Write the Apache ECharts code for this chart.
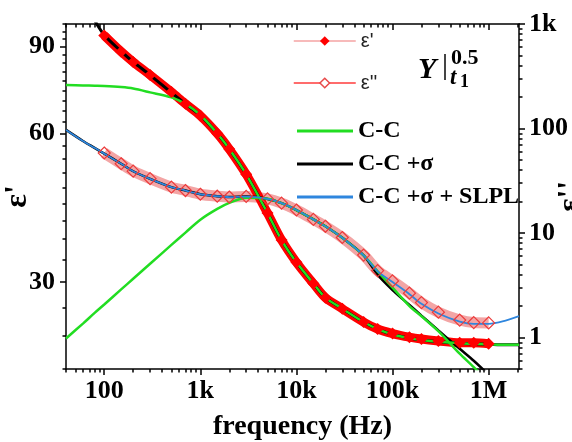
<!DOCTYPE html>
<html>
<head>
<meta charset="utf-8">
<script src="https://cdn.jsdelivr.net/npm/echarts@6/dist/echarts.min.js"></script>
<style>
  html, body { margin: 0; padding: 0; background: #fff; }
  #chart { width: 572px; height: 442px; }
</style>
</head>
<body>
<div id="chart"></div>
<script>
// measured points (Hz)
const freq = [100, 150, 200, 300, 500, 700, 1e3, 1.5e3, 2e3, 3e3, 5e3, 7e3, 1e4, 1.5e4, 2e4, 3e4, 5e4, 7e4, 1e5, 1.5e5, 2e5, 3e5, 5e5, 7e5, 1e6];
const epsReal = [94.8, 87.9, 83.8, 78.8, 72.8, 68.9, 65.2, 60.0, 55.8, 49.6, 41.4, 36.5, 32.9, 29.8, 27.9, 26.5, 24.9, 24.1, 23.6, 23.2, 23.0, 22.8, 22.6, 22.6, 22.5];
const epsImag = [58.3, 46.0, 39.1, 33.1, 27.5, 25.5, 23.5, 22.5, 22.1, 22.4, 21.2, 19.3, 16.6, 13.5, 11.6, 9.06, 6.15, 4.37, 3.48, 2.66, 2.16, 1.75, 1.47, 1.39, 1.38];

// fitted curves
const fitFreq = [40, 60, 80, 100, 150, 200, 300, 500, 700, 1e3, 1.5e3, 2e3, 3e3, 5e3, 7e3, 1e4, 1.5e4, 2e4, 3e4, 5e4, 7e4, 1e5, 1.5e5, 2e5, 3e5, 5e5, 7e5, 1e6, 1.5e6, 2.07e6];
const ccReal = [75.2, 75.1, 75.0, 74.9, 74.5, 74.0, 72.7, 71.0, 68.9, 65.4, 60.0, 55.8, 49.6, 41.4, 36.5, 32.9, 29.8, 27.9, 26.5, 24.9, 24.1, 23.5, 23.1, 22.9, 22.7, 22.55, 22.5, 22.45, 22.4, 22.4];
const ccImag = [0.98, 1.36, 1.73, 2.07, 2.89, 3.65, 5.08, 7.7, 10.1, 13.4, 17.0, 19.4, 21.8, 21.3, 19.3, 16.6, 13.5, 11.6, 9.0, 6.1, 4.3, 3.0, 2.0, 1.6, 1.15, 0.7, 0.52, 0.37, null, null];
const ccSigReal = [null, null, 101.5, 95.0, 88.0, 83.8, 78.8, 72.6, 68.9, 65.3, 60.0, 55.8, 49.6, 41.4, 36.5, 32.9, 29.8, 27.9, 26.5, 24.9, 24.1, 23.5, 23.1, 22.9, 22.7, 22.55, 22.5, 22.45, 22.4, 22.4];
const ccSigImag = [97, 76, 65, 57.5, 46, 39, 33, 27.5, 25.5, 23.5, 22.5, 22.1, 22.3, 21.2, 19.3, 16.6, 13.5, 11.6, 9.0, 6.1, 4.0, 2.85, 2.05, 1.62, 1.17, 0.78, 0.6, 0.44, null, null];
const slplImag = [97, 76, 65, 57.5, 46, 39, 33, 27.5, 25.5, 23.5, 22.5, 22.1, 22.3, 21.2, 19.3, 16.6, 13.5, 11.6, 9.0, 6.1, 4.3, 3.4, 2.6, 2.1, 1.7, 1.42, 1.35, 1.35, 1.45, 1.6];

// ticks
const xTickValues = [100, 1e3, 1e4, 1e5, 1e6];
const xTickLabels = ['100', '1k', '10k', '100k', '1M'];
const leftTickValues = [30, 60, 90];
const rightTickValues = [1, 10, 100, 1000];
const rightTickLabels = ['1', '10', '100', '1k'];

const X_MIN = 40, X_MAX = 2.07e6;
const L_MIN = 20, L_MAX = 100;
const R_MIN = 0.5, R_MAX = 1000;

const xMinor = [];
[10, 100, 1e3, 1e4, 1e5, 1e6].forEach(d => {
    for (let k = 2; k <= 9; k++) {
        const v = k * d;
        if (v >= X_MIN && v <= X_MAX) xMinor.push(v);
    }
});
const rightMinor = [];
[0.1, 1, 10, 100].forEach(d => {
    for (let k = 2; k <= 9; k++) {
        const v = k * d;
        if (v >= R_MIN && v <= R_MAX) rightMinor.push(v);
    }
});
const leftMinor = [];
for (let k = 0; k <= 24; k++) {
    if (k % 9 !== 3) leftMinor.push(20 + k * 10 / 3);
}

const pair = (xs, ys) => xs.map((x, i) => [x, ys[i]]);
const labelFor = (vals, labels) => v => {
    const i = vals.findIndex(t => Math.abs(Math.log10(t) - Math.log10(v)) < 1e-6);
    return i >= 0 ? labels[i] : '';
};

const serif = 'Liberation Serif';
const tickFont = { fontFamily: serif, fontWeight: 'bold', fontSize: 26, color: '#000' };
const lineOn = () => ({ show: true, onZero: false, lineStyle: { color: '#000', width: 1.5 } });
const lineOff = () => ({ show: false, onZero: false });
const ticks = (vals, len, inside) => ({
    show: true, inside: !!inside, length: len, customValues: vals,
    lineStyle: { color: '#000', width: 1.5 }
});

const chart = echarts.init(document.getElementById('chart'));

const option = {
    animation: false,
    backgroundColor: '#fff',
    grid: { left: 66, right: 53, top: 24, bottom: 73, outerBoundsMode: 'none' },
    xAxis: [
        {
            type: 'log', min: X_MIN, max: X_MAX, position: 'bottom',
            axisLine: lineOn(), axisTick: ticks(xTickValues, 6),
            axisLabel: { ...tickFont, margin: 9, customValues: xTickValues, formatter: labelFor(xTickValues, xTickLabels) },
            splitLine: { show: false },
            name: 'frequency (Hz)', nameLocation: 'middle', nameGap: 44, nameMoveOverlap: false,
            nameTextStyle: { fontFamily: serif, fontWeight: 'bold', fontSize: 28, color: '#000', padding: [0, 0, 0, 20] }
        },
        {
            type: 'log', min: X_MIN, max: X_MAX, position: 'bottom',
            axisLine: lineOff(), axisTick: ticks(xMinor, 3.5),
            axisLabel: { show: false }, splitLine: { show: false }
        },
        {
            type: 'log', min: X_MIN, max: X_MAX, position: 'top',
            axisLine: lineOn(), axisTick: ticks(xTickValues, 6, true),
            axisLabel: { show: false }, splitLine: { show: false }
        },
        {
            type: 'log', min: X_MIN, max: X_MAX, position: 'top',
            axisLine: lineOff(), axisTick: ticks(xMinor, 3.5, true),
            axisLabel: { show: false }, splitLine: { show: false }
        }
    ],
    yAxis: [
        {
            type: 'log', min: L_MIN, max: L_MAX, position: 'left',
            axisLine: lineOn(), axisTick: ticks(leftTickValues, 6),
            axisLabel: { ...tickFont, margin: 11, customValues: leftTickValues },
            splitLine: { show: false },
            name: "ε'", nameLocation: 'middle', nameGap: 32, nameRotate: 90, nameMoveOverlap: false,
            nameTextStyle: { fontFamily: serif, fontWeight: 'bold', fontSize: 32, color: '#000' }
        },
        {
            type: 'log', min: R_MIN, max: R_MAX, position: 'right',
            axisLine: lineOn(), axisTick: ticks(rightTickValues, 6),
            axisLabel: { ...tickFont, margin: 10, customValues: rightTickValues, formatter: labelFor(rightTickValues, rightTickLabels) },
            splitLine: { show: false },
            name: "ε''", nameLocation: 'middle', nameGap: 36, nameRotate: 90, nameMoveOverlap: false,
            nameTextStyle: { fontFamily: serif, fontWeight: 'bold', fontSize: 32, color: '#000' }
        },
        {
            type: 'log', min: L_MIN, max: L_MAX, position: 'left',
            axisLine: lineOff(), axisTick: ticks(leftMinor, 3.5),
            axisLabel: { show: false }, splitLine: { show: false }
        },
        {
            type: 'log', min: R_MIN, max: R_MAX, position: 'right',
            axisLine: lineOff(), axisTick: ticks(rightMinor, 3.5),
            axisLabel: { show: false }, splitLine: { show: false }
        }
    ],
    legend: [
        {
            orient: 'vertical', left: 288, top: 26, itemWidth: 62, itemHeight: 12, itemGap: 22,
            selectedMode: false,
            textStyle: { fontFamily: 'Liberation Sans', fontSize: 20, color: '#222' },
            data: [
                { name: "ε'", lineStyle: { color: '#f5a3a3', width: 1.5 }, itemStyle: { color: '#ff0000' } },
                { name: "ε''", lineStyle: { color: '#ff3b3b', width: 1.5 }, itemStyle: { color: '#fff', borderColor: '#e84a4a', borderWidth: 1.5 } }
            ]
        },
        {
            orient: 'vertical', left: 292, top: 114, itemWidth: 56, itemHeight: 3, itemGap: 9,
            icon: 'rect', selectedMode: false,
            textStyle: { fontFamily: serif, fontWeight: 'bold', fontSize: 24, color: '#000' },
            data: ['C-C', 'C-C +σ', 'C-C +σ + SLPL']
        }
    ],
    graphic: [
        { type: 'text', left: 418, top: 55, style: { text: 'Y', font: 'italic bold 30px "Liberation Serif"', fill: '#000' } },
        { type: 'text', left: 442, top: 51, style: { text: '|', font: '30px "Liberation Serif"', fill: '#000' } },
        { type: 'text', left: 451, top: 47, style: { text: '0.5', font: 'bold 22px "Liberation Serif"', fill: '#000' } },
        { type: 'text', left: 450, top: 67, style: { text: 't', font: 'italic bold 23px "Liberation Serif"', fill: '#000' } },
        { type: 'text', left: 460, top: 73, style: { text: '1', font: 'bold 18px "Liberation Serif"', fill: '#000' } }
    ],
    series: [
        {
            name: "ε''", type: 'line', xAxisIndex: 0, yAxisIndex: 1,
            data: pair(freq, epsImag), smooth: 0.3,
            symbol: 'diamond', symbolSize: 12, showSymbol: true,
            itemStyle: { color: 'rgba(255,255,255,0)', borderColor: '#ec3a3a', borderWidth: 1.2 },
            lineStyle: { color: '#f3a5a5', width: 11 }
        },
        {
            name: "ε'", type: 'line', xAxisIndex: 0, yAxisIndex: 0,
            data: pair(freq, epsReal), smooth: 0.3,
            symbol: 'diamond', symbolSize: 12, showSymbol: true,
            itemStyle: { color: '#ff0000' },
            lineStyle: { color: '#ff0000', width: 9 }
        },
        {
            name: 'C-C +σ', type: 'line', xAxisIndex: 0, yAxisIndex: 0,
            data: pair(fitFreq, ccSigReal), smooth: 0.3, symbol: 'none',
            itemStyle: { color: '#000' }, lineStyle: { color: '#000', width: 3 }
        },
        {
            name: 'C-C +σ', type: 'line', xAxisIndex: 0, yAxisIndex: 1,
            data: pair(fitFreq, ccSigImag), smooth: 0.3, symbol: 'none',
            itemStyle: { color: '#000' }, lineStyle: { color: '#000', width: 2.5 }
        },
        {
            name: 'C-C', type: 'line', xAxisIndex: 0, yAxisIndex: 0,
            data: pair(fitFreq, ccReal), smooth: 0.3, symbol: 'none',
            itemStyle: { color: '#22dd22' }, lineStyle: { color: '#22dd22', width: 2.5 }
        },
        {
            name: 'C-C', type: 'line', xAxisIndex: 0, yAxisIndex: 1,
            data: pair(fitFreq, ccImag), smooth: 0.3, symbol: 'none',
            itemStyle: { color: '#22dd22' }, lineStyle: { color: '#22dd22', width: 2.5 }
        },
        {
            name: 'C-C +σ + SLPL', type: 'line', xAxisIndex: 0, yAxisIndex: 1,
            data: pair(fitFreq, slplImag), smooth: 0.3, symbol: 'none',
            itemStyle: { color: '#2e86de' }, lineStyle: { color: '#2e86de', width: 1.8 }
        }
    ]
};

chart.setOption(option);
</script>
</body>
</html>
